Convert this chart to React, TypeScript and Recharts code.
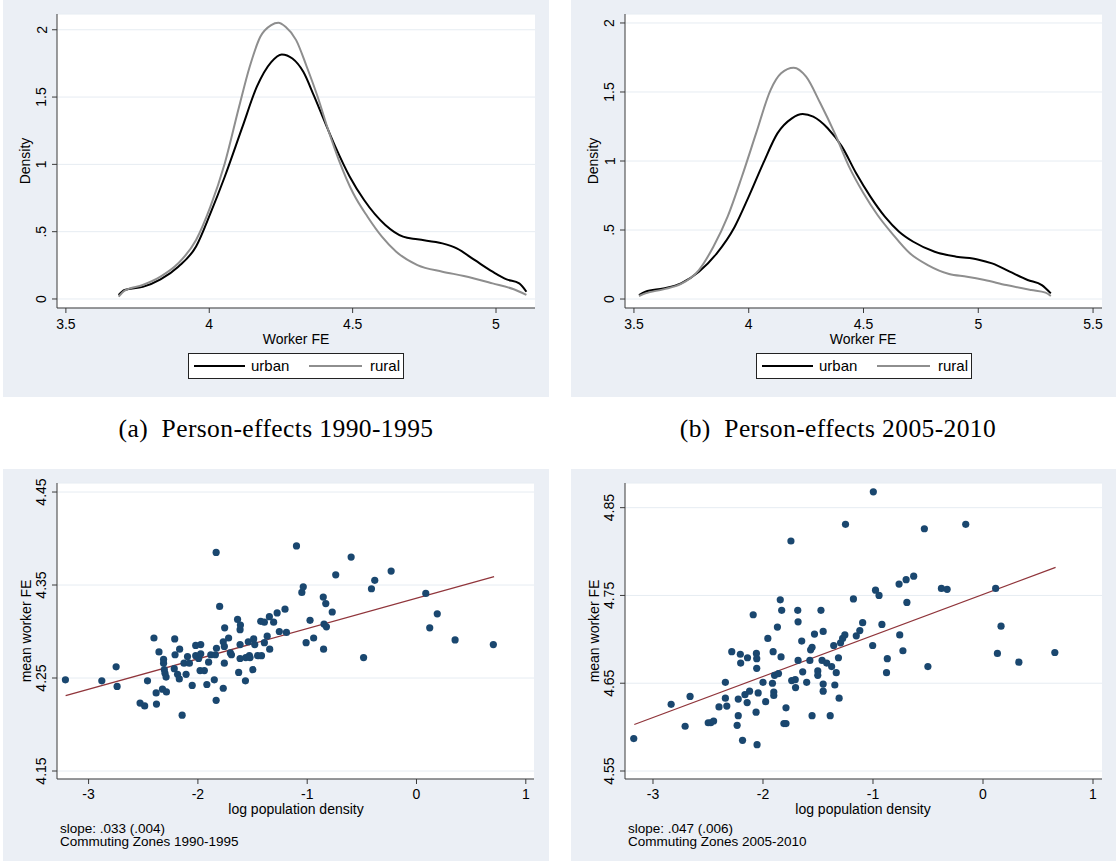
import React from 'react';
import { LineChart, Line, XAxis, YAxis, CartesianGrid, ComposedChart, Scatter } from 'recharts';

// ---------- data ----------
const URBAN_A: [number, number][] = [[3.684,0.03],[3.705,0.067],[3.768,0.09],[3.83,0.146],[3.892,0.24],[3.954,0.39],[4.004,0.636],[4.054,0.908],[4.116,1.28],[4.166,1.577],[4.216,1.76],[4.253,1.817],[4.29,1.787],[4.328,1.688],[4.365,1.51],[4.40,1.33],[4.44,1.13],[4.49,0.908],[4.54,0.735],[4.614,0.55],[4.676,0.463],[4.726,0.443],[4.813,0.413],[4.863,0.376],[4.925,0.29],[4.988,0.203],[5.037,0.146],[5.081,0.116],[5.106,0.054]];
const RURAL_A: [number, number][] = [[3.684,0.017],[3.705,0.062],[3.768,0.104],[3.83,0.166],[3.892,0.265],[3.954,0.438],[4.004,0.686],[4.054,1.007],[4.104,1.428],[4.141,1.725],[4.178,1.948],[4.216,2.035],[4.241,2.052],[4.266,2.022],[4.303,1.923],[4.34,1.725],[4.378,1.502],[4.415,1.255],[4.452,1.032],[4.502,0.785],[4.552,0.611],[4.602,0.463],[4.652,0.351],[4.726,0.252],[4.813,0.203],[4.888,0.171],[4.988,0.116],[5.062,0.072],[5.106,0.03]];
const URBAN_B: [number, number][] = [[3.522,0.029],[3.55,0.053],[3.628,0.077],[3.705,0.114],[3.783,0.198],[3.861,0.331],[3.939,0.524],[4.0,0.742],[4.063,0.983],[4.125,1.2],[4.188,1.309],[4.235,1.34],[4.281,1.321],[4.344,1.237],[4.406,1.104],[4.468,0.911],[4.53,0.742],[4.593,0.597],[4.655,0.488],[4.717,0.415],[4.81,0.343],[4.904,0.307],[4.997,0.287],[5.06,0.258],[5.137,0.198],[5.215,0.138],[5.277,0.101],[5.316,0.041]];
const RURAL_B: [number, number][] = [[3.522,0.022],[3.55,0.041],[3.628,0.07],[3.705,0.109],[3.783,0.21],[3.846,0.379],[3.908,0.597],[3.97,0.886],[4.032,1.2],[4.095,1.514],[4.141,1.635],[4.196,1.676],[4.25,1.611],[4.312,1.418],[4.375,1.2],[4.437,0.959],[4.5,0.766],[4.561,0.609],[4.624,0.476],[4.702,0.331],[4.78,0.246],[4.873,0.181],[4.951,0.162],[5.028,0.138],[5.122,0.101],[5.231,0.065],[5.293,0.046],[5.316,0.022]];

const CZ_1990: [number, number][] = [[-3.212,4.248],[-2.879,4.247],[-2.748,4.262],[-2.739,4.241],[-2.529,4.223],[-2.487,4.22],[-2.461,4.247],[-2.402,4.293],[-2.382,4.234],[-2.379,4.222],[-2.356,4.278],[-2.324,4.238],[-2.314,4.27],[-2.314,4.266],[-2.307,4.259],[-2.301,4.255],[-2.291,4.251],[-2.288,4.235],[-2.212,4.292],[-2.209,4.275],[-2.216,4.26],[-2.186,4.254],[-2.17,4.249],[-2.167,4.281],[-2.144,4.21],[-2.127,4.266],[-2.108,4.254],[-2.095,4.273],[-2.078,4.266],[-2.052,4.242],[-2.02,4.285],[-2.02,4.274],[-1.993,4.271],[-1.974,4.286],[-1.974,4.276],[-1.98,4.258],[-1.941,4.258],[-1.918,4.243],[-1.902,4.267],[-1.882,4.275],[-1.85,4.248],[-1.833,4.385],[-1.833,4.226],[-1.83,4.282],[-1.84,4.275],[-1.801,4.327],[-1.768,4.289],[-1.758,4.284],[-1.755,4.304],[-1.758,4.266],[-1.768,4.239],[-1.719,4.293],[-1.703,4.277],[-1.693,4.275],[-1.637,4.313],[-1.627,4.256],[-1.614,4.302],[-1.611,4.307],[-1.614,4.286],[-1.614,4.271],[-1.565,4.247],[-1.562,4.272],[-1.539,4.289],[-1.529,4.274],[-1.523,4.272],[-1.497,4.259],[-1.49,4.292],[-1.48,4.286],[-1.454,4.274],[-1.425,4.311],[-1.418,4.274],[-1.392,4.31],[-1.392,4.288],[-1.366,4.295],[-1.346,4.316],[-1.343,4.281],[-1.307,4.31],[-1.275,4.32],[-1.255,4.3],[-1.203,4.324],[-1.19,4.299],[-1.098,4.392],[-1.049,4.342],[-1.036,4.348],[-1.01,4.288],[-0.974,4.312],[-0.941,4.293],[-0.853,4.337],[-0.85,4.281],[-0.846,4.308],[-0.83,4.33],[-0.824,4.305],[-0.771,4.321],[-0.739,4.361],[-0.598,4.38],[-0.484,4.272],[-0.412,4.346],[-0.382,4.355],[-0.232,4.365],[0.085,4.341],[0.121,4.304],[0.19,4.319],[0.353,4.291],[0.703,4.286]];
const CZ_2005: [number, number][] = [[-3.175,4.587],[-2.835,4.626],[-2.708,4.601],[-2.663,4.635],[-2.498,4.605],[-2.475,4.605],[-2.449,4.607],[-2.4,4.623],[-2.342,4.651],[-2.342,4.633],[-2.329,4.624],[-2.284,4.686],[-2.235,4.602],[-2.225,4.632],[-2.225,4.613],[-2.206,4.683],[-2.203,4.673],[-2.186,4.585],[-2.164,4.637],[-2.144,4.628],[-2.141,4.679],[-2.122,4.641],[-2.089,4.728],[-2.063,4.617],[-2.06,4.684],[-2.057,4.678],[-2.057,4.667],[-2.054,4.58],[-2.044,4.639],[-2.0,4.651],[-1.976,4.629],[-1.956,4.701],[-1.914,4.65],[-1.908,4.686],[-1.902,4.64],[-1.902,4.636],[-1.895,4.659],[-1.869,4.714],[-1.859,4.661],[-1.843,4.745],[-1.836,4.68],[-1.83,4.733],[-1.81,4.604],[-1.791,4.604],[-1.791,4.622],[-1.746,4.812],[-1.739,4.653],[-1.707,4.654],[-1.704,4.645],[-1.684,4.733],[-1.681,4.72],[-1.681,4.676],[-1.648,4.698],[-1.639,4.663],[-1.603,4.651],[-1.574,4.676],[-1.567,4.688],[-1.554,4.613],[-1.554,4.691],[-1.532,4.706],[-1.502,4.664],[-1.502,4.659],[-1.473,4.733],[-1.463,4.676],[-1.453,4.709],[-1.453,4.649],[-1.453,4.641],[-1.421,4.673],[-1.389,4.613],[-1.376,4.669],[-1.357,4.693],[-1.347,4.648],[-1.334,4.662],[-1.314,4.679],[-1.308,4.633],[-1.295,4.696],[-1.276,4.701],[-1.256,4.705],[-1.25,4.831],[-1.178,4.746],[-1.152,4.704],[-1.12,4.71],[-1.094,4.719],[-1.003,4.693],[-0.997,4.868],[-0.977,4.756],[-0.945,4.75],[-0.919,4.717],[-0.877,4.662],[-0.87,4.678],[-0.763,4.763],[-0.757,4.705],[-0.728,4.687],[-0.699,4.768],[-0.692,4.742],[-0.63,4.772],[-0.533,4.826],[-0.501,4.669],[-0.378,4.758],[-0.326,4.757],[-0.157,4.831],[0.115,4.758],[0.131,4.684],[0.164,4.715],[0.326,4.674],[0.653,4.685]];

const FIT_1990: [number, number][] = [[-3.21, 4.231], [0.71, 4.359]];
const FIT_2005: [number, number][] = [[-3.17, 4.603], [0.66, 4.782]];

const X_TICKS_A = [3.5, 4, 4.5, 5];
const X_TICKS_B = [3.5, 4, 4.5, 5, 5.5];
const Y_TICKS_DENS = [0, 0.5, 1, 1.5, 2];
const X_TICKS_CZ = [-3, -2, -1, 0, 1];
const Y_TICKS_1990 = [4.15, 4.25, 4.35, 4.45];
const Y_TICKS_2005 = [4.55, 4.65, 4.75, 4.85];

const SERIES_NAMES = ['urban', 'rural'];
const CAPTIONS = ['(a)\u00a0 Person-effects 1990-1995', '(b)\u00a0 Person-effects 2005-2010'];
const NOTES_1990 = ['slope: .033 (.004)', 'Commuting Zones 1990-1995'];
const NOTES_2005 = ['slope: .047 (.006)', 'Commuting Zones 2005-2010'];

// ---------- styles ----------
const BG = '#EBEFF5';
const GRID = '#E6ECF2';
const AXIS = '#3a3a3a';
const NAVY = '#1A476F';
const MAROON = '#90353B';
const GREY = '#8E8E8E';
const SANS = '"Liberation Sans", Arial, sans-serif';
const SERIF = '"Liberation Serif", "Times New Roman", serif';

const toXY = (a: [number, number][]) => a.map(([x, y]) => ({ x, y }));
const fmt = (v: number) => {
  const s = String(v);
  if (s.startsWith('0.')) return s.slice(1);
  if (s.startsWith('-0.')) return '-' + s.slice(2);
  return s;
};

function YTick(props: any) {
  const { x, y, payload } = props;
  const bx = x - 5.5;
  return (
    <text x={bx} y={y} transform={`rotate(-90 ${bx} ${y})`} textAnchor="middle" fontSize={14} fontFamily={SANS} fill="#000">
      {fmt(payload.value)}
    </text>
  );
}

const xTickStyle = { fontSize: 14, fill: '#000', fontFamily: SANS };

function DensityPanel(p: { left: number; width: number; urban: any[]; rural: any[]; xDomain: [number, number]; xTicks: number[]; yDomain: [number, number] }) {
  return (
    <div style={{ position: 'absolute', left: p.left, top: 0, width: p.width, height: 397, background: BG }}>
      <LineChart width={p.width} height={397} margin={{ top: 14, right: 14, bottom: 49, left: 0 }}>
        <CartesianGrid vertical={false} stroke={GRID} fill="#fff" fillOpacity={1} />
        <XAxis type="number" dataKey="x" domain={p.xDomain} ticks={p.xTicks} allowDataOverflow tickFormatter={fmt}
          tickSize={5} tickMargin={6} height={40} stroke={AXIS} tick={xTickStyle} interval={0} />
        <YAxis type="number" dataKey="y" domain={p.yDomain} ticks={Y_TICKS_DENS} allowDataOverflow width={54}
          tickSize={5} tickMargin={0} stroke={AXIS} tick={(tp: any) => <YTick {...tp} />} interval={0} />
        <Line data={p.urban} dataKey="y" name={SERIES_NAMES[0]} stroke="#000" strokeWidth={2} dot={false} type="monotone" isAnimationActive={false} />
        <Line data={p.rural} dataKey="y" name={SERIES_NAMES[1]} stroke={GREY} strokeWidth={2} dot={false} type="monotone" isAnimationActive={false} />
      </LineChart>
    </div>
  );
}

function ScatterPanel(p: { left: number; width: number; pts: any[]; fit: any[]; yDomain: [number, number]; yTicks: number[]; xDomain: [number, number] }) {
  return (
    <div style={{ position: 'absolute', left: p.left, top: 469, width: p.width, height: 392, background: BG }}>
      <ComposedChart width={p.width} height={392} margin={{ top: 14, right: p.width - 531, bottom: 42, left: 0 }}>
        <CartesianGrid vertical={false} stroke={GRID} fill="#fff" fillOpacity={1} />
        <XAxis type="number" dataKey="x" domain={p.xDomain} ticks={X_TICKS_CZ} allowDataOverflow tickFormatter={fmt}
          tickSize={5} tickMargin={5} height={40} stroke={AXIS} tick={xTickStyle} interval={0} />
        <YAxis type="number" dataKey="y" domain={p.yDomain} ticks={p.yTicks} allowDataOverflow width={54}
          tickSize={5} tickMargin={0} stroke={AXIS} tick={(tp: any) => <YTick {...tp} />} interval={0} />
        <Scatter data={p.pts} fill={NAVY} isAnimationActive={false}
          shape={(sp: any) => <circle cx={sp.cx} cy={sp.cy} r={3.6} fill={NAVY} />} />
        <Line data={p.fit} dataKey="y" stroke={MAROON} strokeWidth={1.3} dot={false} type="linear" isAnimationActive={false} />
      </ComposedChart>
    </div>
  );
}

function Legend({ left }: { left: number }) {
  const top = 353;
  return (
    <g>
      <rect x={left + 0.5} y={top + 0.5} width={215} height={25} fill="#fff" stroke="#222" strokeWidth={1} />
      <line x1={left + 6} x2={left + 57} y1={top + 13} y2={top + 13} stroke="#000" strokeWidth={2} />
      <text x={left + 63} y={top + 18} fontSize={15} fontFamily={SANS} fill="#000">{SERIES_NAMES[0]}</text>
      <line x1={left + 121} x2={left + 174} y1={top + 13} y2={top + 13} stroke={GREY} strokeWidth={2} />
      <text x={left + 182} y={top + 18} fontSize={15} fontFamily={SANS} fill="#000">{SERIES_NAMES[1]}</text>
    </g>
  );
}

function RotText({ x, y, children }: { x: number; y: number; children: any }) {
  return (
    <text x={x} y={y} transform={`rotate(-90 ${x} ${y})`} textAnchor="middle" fontSize={14} fontFamily={SANS} fill="#000">{children}</text>
  );
}

export default function App() {
  return (
    <div style={{ position: 'absolute', left: 0, top: 0, width: 1116, height: 861, background: '#fff', overflow: 'hidden' }}>
      <DensityPanel left={3} width={546} urban={toXY(URBAN_A)} rural={toXY(RURAL_A)} xDomain={[3.469, 5.136]} xTicks={X_TICKS_A} yDomain={[-0.067, 2.117]} />
      <DensityPanel left={571} width={545} urban={toXY(URBAN_B)} rural={toXY(RURAL_B)} xDomain={[3.461, 5.539]} xTicks={X_TICKS_B} yDomain={[-0.065, 2.065]} />
      <ScatterPanel left={3} width={546} pts={toXY(CZ_1990)} fit={toXY(FIT_1990)} xDomain={[-3.289, 1.075]} yDomain={[4.1414, 4.4597]} yTicks={Y_TICKS_1990} />
      <ScatterPanel left={571} width={545} pts={toXY(CZ_2005)} fit={toXY(FIT_2005)} xDomain={[-3.2545, 1.0818]} yDomain={[4.5409, 4.8781]} yTicks={Y_TICKS_2005} />
      <svg width={1116} height={861} style={{ position: 'absolute', left: 0, top: 0, pointerEvents: 'none' }}>
        {/* axis titles, top */}
        <text x={296} y={344} textAnchor="middle" fontSize={14} fontFamily={SANS} fill="#000">Worker FE</text>
        <text x={863} y={344} textAnchor="middle" fontSize={14} fontFamily={SANS} fill="#000">Worker FE</text>
        <RotText x={30} y={161}>Density</RotText>
        <RotText x={598} y={161}>Density</RotText>
        <Legend left={188} />
        <Legend left={756} />
        {/* captions */}
        <text x={276} y={437} textAnchor="middle" fontSize={25.5} letterSpacing={0.4} fontFamily={SERIF} fill="#000" style={{ whiteSpace: 'pre' }}>{CAPTIONS[0]}</text>
        <text x={838} y={437} textAnchor="middle" fontSize={25.5} letterSpacing={0.4} fontFamily={SERIF} fill="#000" style={{ whiteSpace: 'pre' }}>{CAPTIONS[1]}</text>
        {/* axis titles, bottom */}
        <text x={296} y={814} textAnchor="middle" fontSize={14} fontFamily={SANS} fill="#000">log population density</text>
        <text x={863} y={814} textAnchor="middle" fontSize={14} fontFamily={SANS} fill="#000">log population density</text>
        <RotText x={31} y={631}>mean worker FE</RotText>
        <RotText x={599} y={631}>mean worker FE</RotText>
        {/* notes */}
        <text x={60} y={833} fontSize={13.5} fontFamily={SANS} fill="#000">{NOTES_1990[0]}</text>
        <text x={60} y={846} fontSize={13.5} fontFamily={SANS} fill="#000">{NOTES_1990[1]}</text>
        <text x={628} y={833} fontSize={13.5} fontFamily={SANS} fill="#000">{NOTES_2005[0]}</text>
        <text x={628} y={846} fontSize={13.5} fontFamily={SANS} fill="#000">{NOTES_2005[1]}</text>
      </svg>
    </div>
  );
}
